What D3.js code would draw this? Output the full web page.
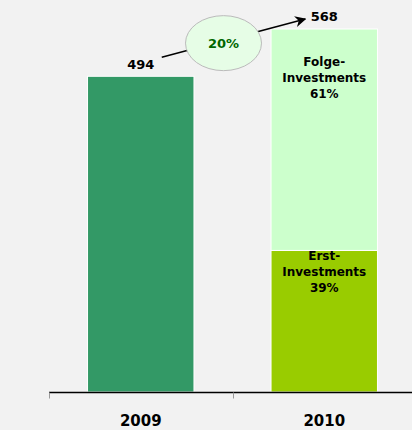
<!DOCTYPE html>
<html>
  <head>
    <meta charset="utf-8">
    <title>Investments 2009 / 2010</title>
    <script src="https://d3js.org/d3.v7.min.js"></script>
    <style>
      body { margin: 0; background: #f2f2f2; }
      svg { display: block; font-family: "DejaVu Sans", Verdana, sans-serif; font-weight: bold; }
    </style>
  </head>
  <body>
    <svg id="chart" width="412" height="430"></svg>
    <script>
      // data
      var years = ["2009", "2010"];
      var totals = [494, 568];
      var segments = ["Erst-Investments", "Folge-Investments"];
      var shares2010 = [0.39, 0.61];
      var segLabels = [["Erst-", "Investments", "39%"], ["Folge-", "Investments", "61%"]];
      var growthLabel = "20%";

      var chart = d3.select("#chart");
      var margin = { top: 29, bottom: 38, left: 49, right: -4 };
      var width = 412, height = 430;

      var x = d3.scaleBand()
        .domain(years)
        .range([margin.left, width - margin.right])
        .padding(0);
      var barW = x.bandwidth() * 0.58;
      var y = d3.scaleLinear()
        .domain([0, d3.max(totals)])
        .range([height - margin.bottom, margin.top]);

      function barX(yr) { return x(yr) + (x.bandwidth() - barW) / 2; }
      function cx(yr) { return x(yr) + x.bandwidth() / 2; }

      // 2009 single bar
      chart.append("rect")
        .attr("x", barX("2009"))
        .attr("y", y(totals[0]))
        .attr("width", barW)
        .attr("height", y(0) - y(totals[0]))
        .style("fill", "#339966")
        .style("stroke", "#fff");

      // 2010 stacked bar
      var stack = [];
      var acc = 0;
      shares2010.forEach(function(s, i) {
        var v = s * totals[1];
        stack.push({ key: segments[i], y0: acc, y1: acc + v, lines: segLabels[i] });
        acc += v;
      });
      var segColour = d3.scaleOrdinal().domain(segments).range(["#99cc00", "#ccffcc"]);
      chart.selectAll(".seg")
        .data(stack)
        .enter().append("rect")
          .classed("seg", true)
          .attr("x", barX("2010"))
          .attr("y", function(d) { return y(d.y1); })
          .attr("width", barW)
          .attr("height", function(d) { return y(d.y0) - y(d.y1); })
          .style("fill", function(d) { return segColour(d.key); })
          .style("stroke", "#fff");

      // segment labels
      var offs = [10, 37];
      stack.forEach(function(d, i) {
        var t = chart.append("text")
          .attr("text-anchor", "middle")
          .attr("font-size", 12)
          .attr("x", cx("2010"))
          .attr("y", y(d.y1) + offs[i]);
        d.lines.forEach(function(line, j) {
          t.append("tspan")
            .attr("x", cx("2010"))
            .attr("dy", j === 0 ? 0 : 16)
            .text(line);
        });
      });

      // total labels
      chart.selectAll(".total")
        .data(years)
        .enter().append("text")
          .classed("total", true)
          .attr("text-anchor", "middle")
          .attr("font-size", 13)
          .attr("x", function(d) { return cx(d); })
          .attr("y", function(d, i) { return y(totals[i]) - (i === 0 ? 7 : 8); })
          .text(function(d, i) { return totals[i]; });

      // growth arrow
      chart.append("defs").append("marker")
        .attr("id", "arrow")
        .attr("viewBox", "0 0 10 10")
        .attr("refX", 9).attr("refY", 5)
        .attr("markerWidth", 7).attr("markerHeight", 7)
        .attr("orient", "auto")
        .append("path")
          .attr("d", "M0,0 L10,5 L0,10 L3,5 Z")
          .style("fill", "#000");
      var p0 = [cx("2009") + 21, y(totals[0]) - 19];
      var p1 = [cx("2010") - 19, y(totals[1]) - 10];
      chart.append("line")
        .attr("x1", p0[0]).attr("y1", p0[1])
        .attr("x2", p1[0]).attr("y2", p1[1])
        .style("stroke", "#000")
        .style("stroke-width", 1.6)
        .attr("marker-end", "url(#arrow)");
      var mid = [(p0[0] + p1[0]) / 2 - 10, (p0[1] + p1[1]) / 2 + 5];
      chart.append("ellipse")
        .attr("cx", mid[0]).attr("cy", mid[1])
        .attr("rx", 38).attr("ry", 27.5)
        .style("fill", "#e6fde6")
        .style("stroke", "#bbbbbb");
      chart.append("text")
        .attr("text-anchor", "middle")
        .attr("font-size", 13)
        .attr("x", mid[0]).attr("y", mid[1] + 5)
        .style("fill", "#006600")
        .text(growthLabel);

      // x axis
      var axisG = chart.append("g")
        .attr("transform", "translate(0," + (Math.round(y(0)) + 0.5) + ")");
      axisG.append("line")
        .attr("x1", margin.left).attr("x2", width)
        .style("stroke", "#000")
        .style("stroke-width", 1.3);
      axisG.selectAll(".tick")
        .data(years)
        .enter().append("line")
          .attr("x1", function(d) { return Math.round(x(d)) + 0.5; })
          .attr("x2", function(d) { return Math.round(x(d)) + 0.5; })
          .attr("y1", 0).attr("y2", 6)
          .style("stroke", "#999");
      axisG.selectAll(".lbl")
        .data(years)
        .enter().append("text")
          .attr("text-anchor", "middle")
          .attr("font-size", 15)
          .attr("x", function(d) { return cx(d); })
          .attr("y", 33)
          .text(function(d) { return d; });
    </script>
  </body>
</html>
